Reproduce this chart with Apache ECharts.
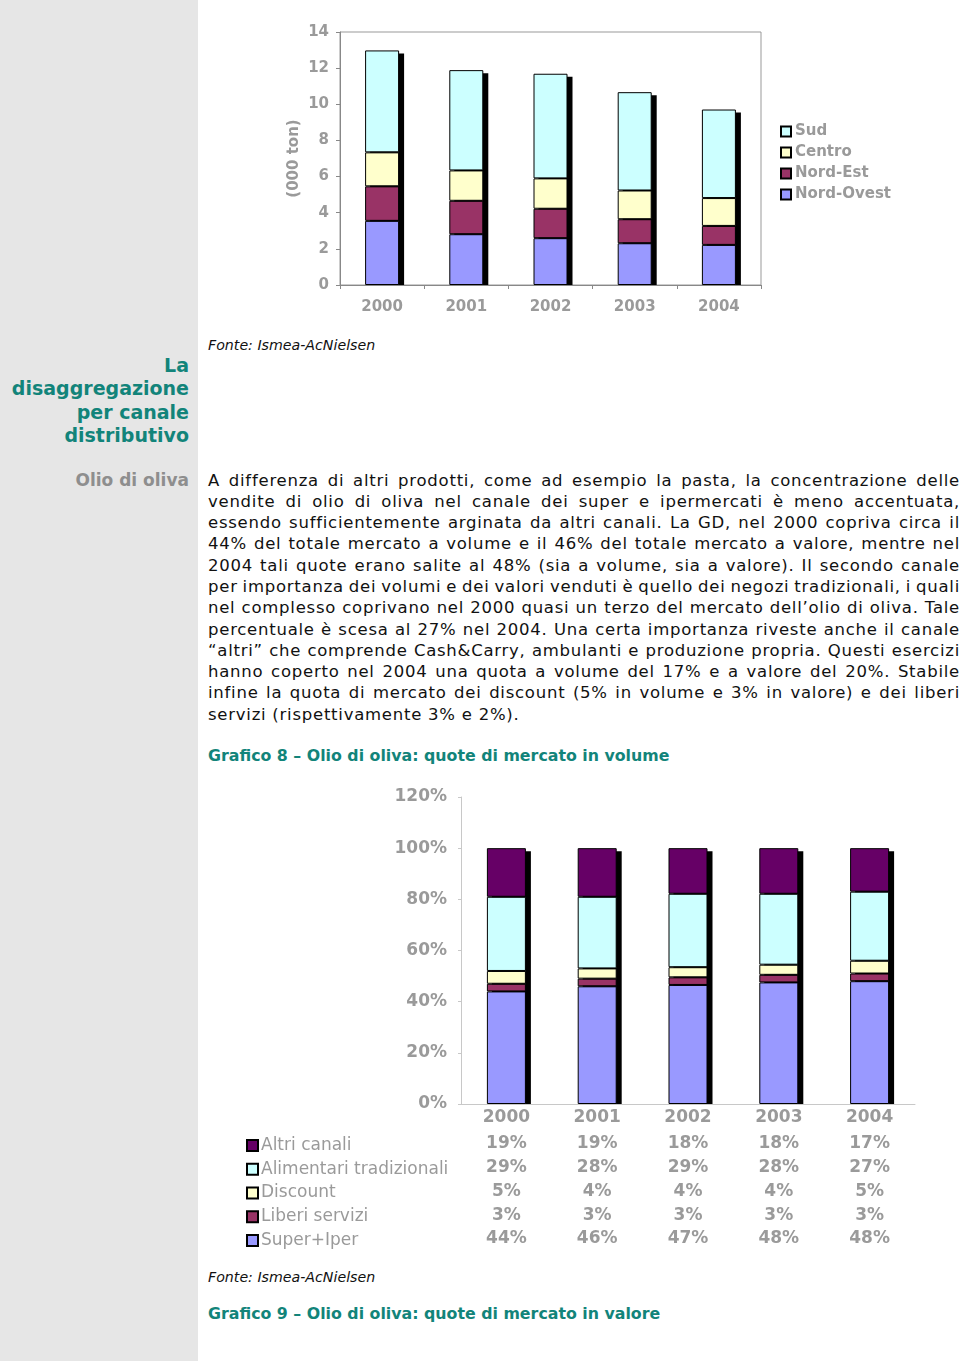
<!DOCTYPE html>
<html><head><meta charset="utf-8">
<script src="https://cdn.jsdelivr.net/npm/echarts@6/dist/echarts.min.js"></script>
<style>
html,body{margin:0;padding:0;background:#fff;}
body{width:960px;height:1361px;position:relative;overflow:hidden;font-family:"DejaVu Sans",Verdana,sans-serif;}
#side{position:absolute;left:0;top:0;width:198px;height:1361px;background:#e6e6e6;}
.abs{position:absolute;white-space:nowrap;}
.teal{color:#12847a;font-weight:bold;}
.src{font-style:italic;font-size:14.2px;color:#111;line-height:16px;}
#head{right:771px;top:354px;text-align:right;font-size:19px;line-height:23.4px;}
#olio{right:771px;top:469px;font-size:17px;line-height:22px;color:#8e8e8e;font-weight:bold;}
#body{left:208px;top:469.5px;width:752px;font-size:16.5px;letter-spacing:0.75px;line-height:21.3px;color:#111;}
#body div{white-space:nowrap;}
.gtitle{font-size:15.8px;line-height:18px;}
#c1{position:absolute;left:200px;top:0;width:760px;height:330px;}
#c2{position:absolute;left:200px;top:770px;width:760px;height:490px;}
</style></head>
<body>
<div id="side"></div>
<div class="abs" id="head"><span class="teal">La<br>disaggregazione<br>per canale<br>distributivo</span></div>
<div class="abs" id="olio">Olio di oliva</div>
<div class="abs src" style="left:208px;top:337px;">Fonte: Ismea-AcNielsen</div>
<div class="abs" id="body"></div>
<div class="abs teal gtitle" style="left:208px;top:747px;">Grafico 8 – Olio di oliva: quote di mercato in volume</div>
<div class="abs src" style="left:208px;top:1269px;">Fonte: Ismea-AcNielsen</div>
<div class="abs teal gtitle" style="left:208px;top:1305px;">Grafico 9 – Olio di oliva: quote di mercato in valore</div>
<div id="c1"></div>
<div id="c2"></div>
<script>
// ---------- Chart 1 data (000 ton) ----------
var years = ['2000','2001','2002','2003','2004'];
var nordOvest = [3.55, 2.81, 2.59, 2.31, 2.22];
var nordEst   = [1.91, 1.85, 1.63, 1.33, 1.05];
var centro    = [1.88, 1.68, 1.68, 1.59, 1.54];
var sud       = [5.64, 5.55, 5.79, 5.44, 4.90];
var yTicks1 = [0, 14, 2];

// ---------- Chart 2 data (quote % in volume) ----------
var superIper   = [44, 46, 47, 48, 48];
var liberi      = [3, 3, 3, 3, 3];
var discount    = [5, 4, 4, 4, 5];
var alimentari  = [29, 28, 29, 28, 27];
var altri       = [19, 19, 18, 18, 17];
var yTicks2 = [0, 120, 20];

var bodyLines = [
"A differenza di altri prodotti, come ad esempio la pasta, la concentrazione delle",
"vendite di olio di oliva nel canale dei super e ipermercati è meno accentuata,",
"essendo sufficientemente arginata da altri canali. La GD, nel 2000 copriva circa il",
"44% del totale mercato a volume e il 46% del totale mercato a valore, mentre nel",
"2004 tali quote erano salite al 48% (sia a volume, sia a valore). Il secondo canale",
"per importanza dei volumi e dei valori venduti è quello dei negozi tradizionali, i quali",
"nel complesso coprivano nel 2000 quasi un terzo del mercato dell’olio di oliva. Tale",
"percentuale è scesa al 27% nel 2004. Una certa importanza riveste anche il canale",
"“altri” che comprende Cash&Carry, ambulanti e produzione propria. Questi esercizi",
"hanno coperto nel 2004 una quota a volume del 17% e a valore del 20%. Stabile",
"infine la quota di mercato dei discount (5% in volume e 3% in valore) e dei liberi",
"servizi (rispettivamente 3% e 2%)."
];

// body text, justified line by line
var body = document.getElementById('body');
bodyLines.forEach(function(t, i){
  var d = document.createElement('div');
  var s = document.createElement('span');
  s.textContent = t;
  d.appendChild(s);
  body.appendChild(d);
  if (i < bodyLines.length - 1) {
    var w = s.getBoundingClientRect().width;
    var n = (t.match(/ /g) || []).length;
    if (n) s.style.wordSpacing = ((752 - w) / n) + 'px';
  }
});

var FONT = '"DejaVu Sans", Verdana, sans-serif';
var GRAY = '#9a9a9a';

function shadowSeries(totals, barW) {
  return {
    type: 'custom', z: 1, silent: true,
    data: totals.map(function(v, i){ return [i, v]; }),
    renderItem: function(params, api){
      var top = api.coord([api.value(0), api.value(1)]);
      var base = api.coord([api.value(0), 0]);
      return { type: 'rect',
        shape: { x: top[0] - barW/2 + 5, y: top[1] + 3, width: barW, height: base[1] - top[1] - 3 },
        style: { fill: '#000' } };
    }
  };
}
function barSeries(name, data, color, barW) {
  return { name: name, type: 'bar', stack: 'tot', data: data, barWidth: barW, z: 2,
    itemStyle: { color: color, borderColor: '#000', borderWidth: 1 } };
}

// ---------- Chart 1 ----------
var c1 = echarts.init(document.getElementById('c1'), null, {renderer: 'canvas'});
var tot1 = years.map(function(y, i){ return nordOvest[i] + nordEst[i] + centro[i] + sud[i]; });
c1.setOption({
  animation: false,
  textStyle: { fontFamily: FONT },
  grid: { left: 140, top: 32, width: 421, height: 253, show: true, borderColor: '#999', borderWidth: 1, backgroundColor: 'transparent' },
  legend: {
    left: 575, top: 119, orient: 'vertical', itemWidth: 10, itemHeight: 10, itemGap: 6,
    icon: 'rect', data: ['Sud', 'Centro', 'Nord-Est', 'Nord-Ovest'],
    textStyle: { color: GRAY, fontWeight: 'bold', fontSize: 15, lineHeight: 15, padding: [0,0,0,-1] }
  },
  xAxis: { type: 'category', data: years,
    axisLine: { lineStyle: { color: '#888' } },
    axisTick: { show: true, length: 4, lineStyle: { color: '#888' } },
    axisLabel: { color: GRAY, fontWeight: 'bold', fontSize: 15, margin: 15 } },
  yAxis: { type: 'value', min: yTicks1[0], max: yTicks1[1], interval: yTicks1[2],
    name: '(000 ton)', nameLocation: 'middle', nameGap: 38, nameRotate: 90, nameMoveOverlap: false,
    nameTextStyle: { color: GRAY, fontWeight: 'bold', fontSize: 15 },
    axisLine: { show: true, lineStyle: { color: '#888' } },
    axisTick: { show: true, length: 4, lineStyle: { color: '#888' } },
    splitLine: { show: false },
    axisLabel: { color: GRAY, fontWeight: 'bold', fontSize: 15, margin: 11 } },
  series: [
    shadowSeries(tot1, 34),
    barSeries('Nord-Ovest', nordOvest, '#9999ff', 34),
    barSeries('Nord-Est', nordEst, '#993366', 34),
    barSeries('Centro', centro, '#ffffcc', 34),
    barSeries('Sud', sud, '#ccffff', 34)
  ]
});

// ---------- Chart 2 ----------
var c2 = echarts.init(document.getElementById('c2'), null, {renderer: 'canvas'});
var raw2 = [superIper, liberi, discount, alimentari, altri];
var sums2 = years.map(function(y, i){ return raw2.reduce(function(a, s){ return a + s[i]; }, 0); });
function pct(arr){ return arr.map(function(v, i){ return v / sums2[i] * 100; }); }
var tot2 = years.map(function(){ return 100; });
var names2 = ['Altri canali', 'Alimentari tradizionali', 'Discount', 'Liberi servizi', 'Super+Iper'];
var rows2 = [altri, alimentari, discount, liberi, superIper];
c2.setOption({
  animation: false,
  textStyle: { fontFamily: FONT },
  grid: { left: 261, top: 27, width: 454, height: 307 },
  legend: {
    left: 41, top: 362, orient: 'vertical', itemWidth: 11, itemHeight: 11, itemGap: 6.75,
    icon: 'rect', data: names2,
    textStyle: { color: GRAY, fontSize: 17, lineHeight: 17, padding: [0,0,0,-2] }
  },
  xAxis: { type: 'category', data: years,
    axisLine: { lineStyle: { color: '#c8c8c8' } },
    axisTick: { show: false },
    axisLabel: { color: GRAY, fontWeight: 'bold', fontSize: 17, margin: 5 } },
  yAxis: { type: 'value', min: yTicks2[0], max: yTicks2[1], interval: yTicks2[2],
    axisLine: { show: true, lineStyle: { color: '#c8c8c8' } },
    axisTick: { show: true, length: 3, lineStyle: { color: '#c8c8c8' } },
    splitLine: { show: false },
    axisLabel: { color: GRAY, fontWeight: 'bold', fontSize: 17, margin: 14, formatter: '{value}%' } },
  series: [
    shadowSeries(tot2, 39),
    barSeries('Super+Iper', pct(superIper), '#9999ff', 39),
    barSeries('Liberi servizi', pct(liberi), '#993366', 39),
    barSeries('Discount', pct(discount), '#ffffcc', 39),
    barSeries('Alimentari tradizionali', pct(alimentari), '#ccffff', 39),
    barSeries('Altri canali', pct(altri), '#660066', 39)
  ]
});
// data table values under the axis
var g = [];
rows2.forEach(function(row, r){
  row.forEach(function(v, i){
    var x = c2.convertToPixel({xAxisIndex: 0}, years[i]);
    g.push({ type: 'text', x: x, y: 374 + r * 23.75, silent: true,
      style: { text: v + '%', fill: GRAY, font: 'bold 17px ' + FONT, align: 'center', verticalAlign: 'middle' } });
  });
});
c2.setOption({ graphic: g });
</script>
</body></html>
